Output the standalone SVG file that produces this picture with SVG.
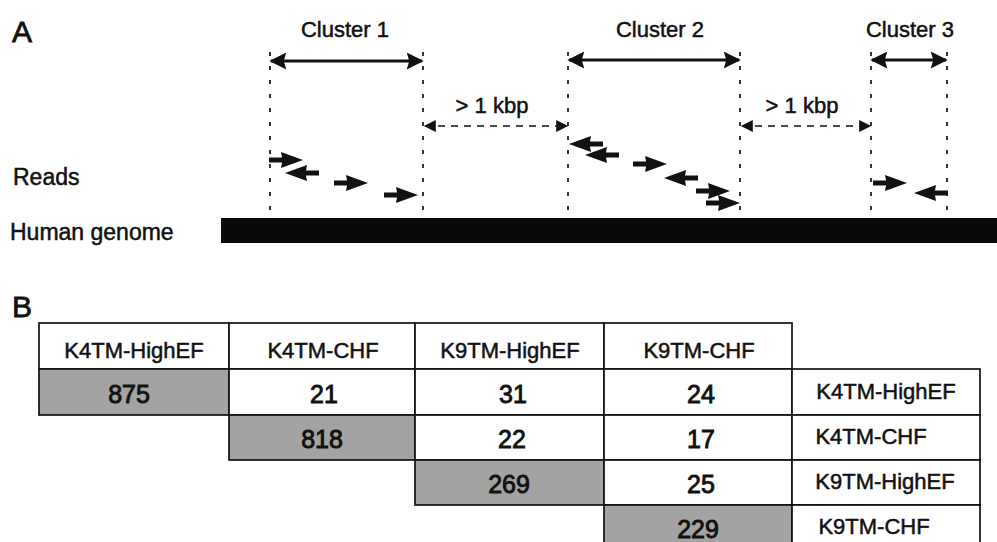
<svg xmlns="http://www.w3.org/2000/svg" width="997" height="542" viewBox="0 0 997 542">
<style>
text{font-family:"Liberation Sans",Arial,Helvetica,sans-serif;fill:#111;stroke:#111;stroke-width:0.5;}
.lbl{font-size:22px;}
.big{font-size:23px;}
.pl{font-size:30px;stroke-width:0.8;}
.num{font-size:25px;text-anchor:middle;stroke-width:0.9;}
.hd{font-size:22px;text-anchor:middle;}
.mid{text-anchor:middle;}
.vdot{stroke:#111;stroke-width:1.7;stroke-dasharray:4 10;fill:none;}
.clus{stroke:#111;stroke-width:3.2;fill:none;}
.gap{stroke:#111;stroke-width:1.7;stroke-dasharray:7 6;fill:none;}
.cell{fill:#fff;stroke:#111;stroke-width:1.7;}
.shade{fill:#a3a3a3;stroke:#111;stroke-width:1.7;}
.read{fill:#111;}
</style>
<defs>
<marker id="hd" viewBox="0 0 10 10" refX="9" refY="5" markerUnits="userSpaceOnUse" markerWidth="21" markerHeight="17" orient="auto-start-reverse">
<path d="M0,0 L10,5 L0,10 L1.5,5 Z" fill="#111"/>
</marker>
<marker id="hg" viewBox="0 0 10 10" refX="9" refY="5" markerUnits="userSpaceOnUse" markerWidth="17" markerHeight="12" orient="auto-start-reverse">
<path d="M0,0 L10,5 L0,10 Z" fill="#111"/>
</marker>
<path id="ra" d="M0,-2.5 L13,-2.5 L12,-8 L34,0 L12,8 L13,2.5 L0,2.5 Z"/>
</defs>

<!-- Panel A -->
<g id="labelA"><text class="pl" x="12" y="42">A</text></g>
<g id="reads-label"><text class="big" x="13" y="185">Reads</text></g>
<g id="genome-label"><text class="big" x="10" y="240">Human genome</text></g>
<g id="genome"><rect x="221" y="218" width="776" height="25" fill="#0a0a0a"/></g>

<g id="cluster1">
<text class="lbl mid" x="345" y="37">Cluster 1</text>
<line class="vdot" x1="270" y1="52" x2="270" y2="217"/>
<line class="vdot" x1="423" y1="52" x2="423" y2="217"/>
<line class="clus" x1="271" y1="61" x2="422" y2="61" marker-start="url(#hd)" marker-end="url(#hd)"/>
<g class="read">
<use href="#ra" transform="translate(269,160)"/>
<use href="#ra" transform="translate(319,173) scale(-1,1)"/>
<use href="#ra" transform="translate(334,183)"/>
<use href="#ra" transform="translate(384,195)"/>
</g>
</g>

<g id="cluster2">
<text class="lbl mid" x="660" y="37">Cluster 2</text>
<line class="vdot" x1="568" y1="52" x2="568" y2="217"/>
<line class="vdot" x1="740" y1="52" x2="740" y2="217"/>
<line class="clus" x1="569" y1="60" x2="739" y2="60" marker-start="url(#hd)" marker-end="url(#hd)"/>
<g class="read">
<use href="#ra" transform="translate(603,144) scale(-1,1)"/>
<use href="#ra" transform="translate(619,155) scale(-1,1)"/>
<use href="#ra" transform="translate(633,164)"/>
<use href="#ra" transform="translate(698,178) scale(-1,1)"/>
<use href="#ra" transform="translate(696,191)"/>
<use href="#ra" transform="translate(706,203)"/>
</g>
</g>

<g id="cluster3">
<text class="lbl mid" x="910" y="37">Cluster 3</text>
<line class="vdot" x1="871" y1="52" x2="871" y2="217"/>
<line class="vdot" x1="947" y1="52" x2="947" y2="217"/>
<line class="clus" x1="872" y1="60" x2="946" y2="60" marker-start="url(#hd)" marker-end="url(#hd)"/>
<g class="read">
<use href="#ra" transform="translate(873,183)"/>
<use href="#ra" transform="translate(948,193) scale(-1,1)"/>
</g>
</g>

<g id="connectors">
<line class="gap" x1="425" y1="126" x2="567" y2="126" marker-start="url(#hg)" marker-end="url(#hg)"/>
<line class="gap" x1="742" y1="126" x2="870" y2="126" marker-start="url(#hg)" marker-end="url(#hg)"/>
<text class="lbl mid" x="492" y="113">&gt; 1 kbp</text>
<text class="lbl mid" x="802" y="113">&gt; 1 kbp</text>
</g>

<!-- Panel B -->
<g id="labelB"><text class="pl" x="12" y="317">B</text></g>

<g id="header">
<g id="h1"><rect class="cell" x="39" y="323" width="190" height="46"/><text class="hd" x="134" y="358">K4TM-HighEF</text></g>
<g id="h2"><rect class="cell" x="229" y="323" width="186" height="46"/><text class="hd" x="323" y="358">K4TM-CHF</text></g>
<g id="h3"><rect class="cell" x="415" y="323" width="189" height="46"/><text class="hd" x="510" y="358">K9TM-HighEF</text></g>
<g id="h4"><rect class="cell" x="604" y="323" width="188" height="46"/><text class="hd" x="699" y="358">K9TM-CHF</text></g>
</g>

<g id="row1">
<g id="c11"><rect class="shade" x="39" y="369" width="190" height="46"/><text class="num" x="129" y="403">875</text></g>
<g id="c12"><rect class="cell" x="229" y="369" width="186" height="46"/><text class="num" x="324" y="403">21</text></g>
<g id="c13"><rect class="cell" x="415" y="369" width="189" height="46"/><text class="num" x="513" y="403">31</text></g>
<g id="c14"><rect class="cell" x="604" y="369" width="188" height="46"/><text class="num" x="701" y="403">24</text></g>
<g id="r1"><rect class="cell" x="792" y="369" width="188" height="46"/><text class="hd" x="886" y="399">K4TM-HighEF</text></g>
</g>

<g id="row2">
<g id="c22"><rect class="shade" x="229" y="415" width="186" height="45"/><text class="num" x="322" y="448">818</text></g>
<g id="c23"><rect class="cell" x="415" y="415" width="189" height="45"/><text class="num" x="512" y="448">22</text></g>
<g id="c24"><rect class="cell" x="604" y="415" width="188" height="45"/><text class="num" x="701" y="448">17</text></g>
<g id="r2"><rect class="cell" x="792" y="415" width="188" height="45"/><text class="hd" x="871" y="444">K4TM-CHF</text></g>
</g>

<g id="row3">
<g id="c33"><rect class="shade" x="415" y="460" width="189" height="45"/><text class="num" x="509" y="493">269</text></g>
<g id="c34"><rect class="cell" x="604" y="460" width="188" height="45"/><text class="num" x="701" y="493">25</text></g>
<g id="r3"><rect class="cell" x="792" y="460" width="188" height="45"/><text class="hd" x="885" y="489">K9TM-HighEF</text></g>
</g>

<g id="row4">
<g id="c44"><rect class="shade" x="604" y="505" width="188" height="46"/><text class="num" x="698" y="538">229</text></g>
<g id="r4"><rect class="cell" x="792" y="505" width="188" height="46"/><text class="hd" x="874" y="534">K9TM-CHF</text></g>
</g>
</svg>
